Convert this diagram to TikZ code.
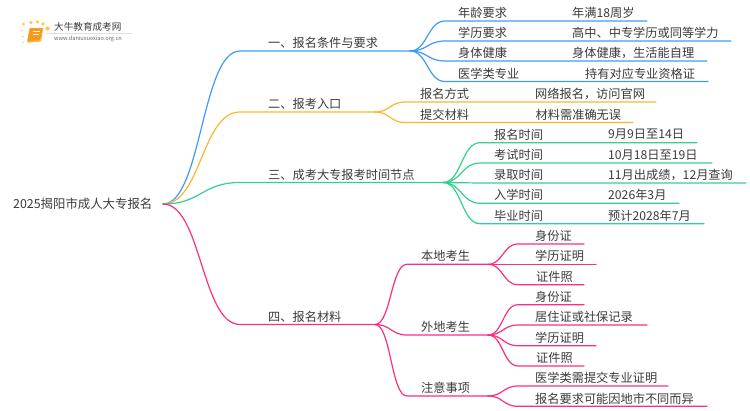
\documentclass[tikz,border=0pt]{standalone}
\usepackage{fontspec}
\usepackage{xcolor}
\usetikzlibrary{calc}
\setmainfont{Noto Sans CJK SC}
\definecolor{linkblue}{HTML}{3D9BFB}
\definecolor{linkorange}{HTML}{FDB52F}
\definecolor{linkgreen}{HTML}{35D08F}
\definecolor{linkpink}{HTML}{FB2E84}
\definecolor{textgray}{HTML}{3A3A3A}
\definecolor{bookorange}{HTML}{F59A1B}
\definecolor{dotyellow}{HTML}{FBC95A}
\tikzset{
  label/.style={anchor=west,inner sep=0pt,text=textgray,font=\fontsize{12.2}{12.2}\selectfont},
  link/.style={line width=1.2pt,line cap=round},
  curve/.style={to path={let \p1=(\tikztostart),\p2=(\tikztotarget) in
    .. controls ({.5*\x1+.5*\x2},\y1) and ({.5*\x1+.5*\x2},\y2) .. (\tikztotarget)}},
  dot/.style={fill=dotyellow,draw=none}
}

\begin{document}
\begin{tikzpicture}[x=1pt,y=-1pt]
\useasboundingbox (0,0) rectangle (750,410);

% logo
\filldraw[dot] (23.5,24) circle(1.6) (31,22.5) circle(1.9) (37.5,22) circle(1.9) (43,24) circle(1.9) (47.5,28.5) circle(2.2);
\filldraw[dot,opacity=.7] (22,30.5) circle(1.2) (22.7,36.5) circle(1.1) (23.3,42.5) circle(.9);
\fill[bookorange!75!white,rounded corners=1pt] (29.5,28) -- (43.5,28) -- (41,41.5) -- (27,42.8) -- cycle;
\fill[bookorange,rounded corners=1pt] (30,28) -- (42.5,28) -- (40,40) -- (27.5,41) -- cycle;
\draw[white,line width=.5pt] (33,31.5) -- (39.5,31.5) (32.5,34) -- (39,34);
\draw[black!12,line width=.6pt] (46,33) -- (132,33);
\node[label,font=\fontsize{9.6}{9.6}\selectfont] (logoname) at (54,26.5) {大牛教育成考网};
\node[label,font=\fontsize{5.6}{5.6}\selectfont,text=black!60] (logourl) at (54,38.5) {www.daniuxuexiao.org.cn};

% root
\node[label,font=\fontsize{12.4}{12.4}\selectfont] (root) at (13,204) {2025揭阳市成人大专报名};
\coordinate (hub) at (163,204);

% branch one
\coordinate (one) at (240,51);
\coordinate (oneEnd) at (410,51);
\node[label] (oneText) at (268,43) {一、报名条件与要求};
\draw[link,linkblue] (hub) to[curve] (one) -- (oneEnd);
\coordinate (oneA) at (445,21);
\coordinate (oneAEnd) at (647,21);
\coordinate (oneB) at (445,41);
\coordinate (oneBEnd) at (731,41);
\coordinate (oneC) at (445,61);
\coordinate (oneCEnd) at (707,61);
\coordinate (oneD) at (445,81.5);
\coordinate (oneDEnd) at (708,81.5);
\draw[link,linkblue] (oneEnd) to[curve] (oneA) -- (oneAEnd);
\draw[link,linkblue] (oneEnd) to[curve] (oneB) -- (oneBEnd);
\draw[link,linkblue] (oneEnd) to[curve] (oneC) -- (oneCEnd);
\draw[link,linkblue] (oneEnd) to[curve] (oneD) -- (oneDEnd);
\node[label] (ageKey) at (458,12.5) {年龄要求};
\node[label] (ageVal) at (572,12.5) {年满18周岁};
\node[label] (eduKey) at (458,33) {学历要求};
\node[label] (eduVal) at (572,33) {高中、中专学历或同等学力};
\node[label] (bodyKey) at (458,53) {身体健康};
\node[label] (bodyVal) at (572,53) {身体健康，生活能自理};
\node[label] (medKey) at (458,73.5) {医学类专业};
\node[label] (medVal) at (585,73.5) {持有对应专业资格证};

% branch two
\coordinate (two) at (240,112);
\coordinate (twoEnd) at (375,112);
\node[label] (twoText) at (268,104) {二、报考入口};
\draw[link,linkorange] (hub) to[curve] (two) -- (twoEnd);
\coordinate (twoA) at (405,102);
\coordinate (twoAEnd) at (656,102);
\coordinate (twoB) at (405,122.5);
\coordinate (twoBEnd) at (633,122.5);
\draw[link,linkorange] (twoEnd) to[curve] (twoA) -- (twoAEnd);
\draw[link,linkorange] (twoEnd) to[curve] (twoB) -- (twoBEnd);
\node[label] (wayKey) at (420,94) {报名方式};
\node[label] (wayVal) at (535,94) {网络报名，访问官网};
\node[label] (subKey) at (420,114.5) {提交材料};
\node[label] (subVal) at (535.5,114.5) {材料需准确无误};

% branch three
\coordinate (three) at (240,182.5);
\coordinate (threeEnd) at (443,182.5);
\node[label] (threeText) at (268,174.5) {三、成考大专报考时间节点};
\draw[link,linkgreen] (hub) to[curve] (three) -- (threeEnd);
\coordinate (threeA) at (480,142.7);
\coordinate (threeAEnd) at (697,142.7);
\coordinate (threeB) at (480,163);
\coordinate (threeBEnd) at (712,163);
\coordinate (threeC) at (480,183);
\coordinate (threeCEnd) at (746,183);
\coordinate (threeD) at (480,203.3);
\coordinate (threeDEnd) at (679,203.3);
\coordinate (threeE) at (480,223.7);
\coordinate (threeEEnd) at (704,223.7);
\draw[link,linkgreen] (threeEnd) to[curve] (threeA) -- (threeAEnd);
\draw[link,linkgreen] (threeEnd) to[curve] (threeB) -- (threeBEnd);
\draw[link,linkgreen] (threeEnd) to[curve] (threeC) -- (threeCEnd);
\draw[link,linkgreen] (threeEnd) to[curve] (threeD) -- (threeDEnd);
\draw[link,linkgreen] (threeEnd) to[curve] (threeE) -- (threeEEnd);
\node[label] (signKey) at (494,134.5) {报名时间};
\node[label] (signVal) at (608,134.5) {9月9日至14日};
\node[label] (examKey) at (494,155) {考试时间};
\node[label] (examVal) at (608,155) {10月18日至19日};
\node[label] (passKey) at (494,175) {录取时间};
\node[label] (passVal) at (608,175) {11月出成绩，12月查询};
\node[label] (joinKey) at (494,195) {入学时间};
\node[label] (joinVal) at (608,195) {2026年3月};
\node[label] (gradKey) at (494,215.5) {毕业时间};
\node[label] (gradVal) at (608,215.5) {预计2028年7月};

% branch four
\coordinate (four) at (240,324.5);
\coordinate (fourEnd) at (375,324.5);
\node[label] (fourText) at (268,316.5) {四、报名材料};
\draw[link,linkpink] (hub) to[curve] (four) -- (fourEnd);
\coordinate (local) at (407,264.3);
\coordinate (localEnd) at (488,264.3);
\coordinate (other) at (407,335);
\coordinate (otherEnd) at (488,335);
\coordinate (note) at (407,396);
\coordinate (noteEnd) at (488,396);
\draw[link,linkpink] (fourEnd) to[curve] (local) -- (localEnd);
\draw[link,linkpink] (fourEnd) to[curve] (other) -- (otherEnd);
\draw[link,linkpink] (fourEnd) to[curve] (note) -- (noteEnd);
\node[label] (localText) at (421,256) {本地考生};
\node[label] (otherText) at (421,327) {外地考生};
\node[label] (noteText) at (421,388) {注意事项};

\coordinate (localA) at (518,244);
\coordinate (localAEnd) at (584,244);
\coordinate (localB) at (518,264.3);
\coordinate (localBEnd) at (596,264.3);
\coordinate (localC) at (518,284.7);
\coordinate (localCEnd) at (584,284.7);
\draw[link,linkpink] (localEnd) to[curve] (localA) -- (localAEnd);
\draw[link,linkpink] (localEnd) to[curve] (localB) -- (localBEnd);
\draw[link,linkpink] (localEnd) to[curve] (localC) -- (localCEnd);
\node[label] (localId) at (535,236) {身份证};
\node[label] (localEdu) at (535,256) {学历证明};
\node[label] (localPhoto) at (536,276.5) {证件照};

\coordinate (otherA) at (518,304.7);
\coordinate (otherAEnd) at (584,304.7);
\coordinate (otherB) at (518,325);
\coordinate (otherBEnd) at (647,325);
\coordinate (otherC) at (518,345.7);
\coordinate (otherCEnd) at (596,345.7);
\coordinate (otherD) at (518,366);
\coordinate (otherDEnd) at (584,366);
\draw[link,linkpink] (otherEnd) to[curve] (otherA) -- (otherAEnd);
\draw[link,linkpink] (otherEnd) to[curve] (otherB) -- (otherBEnd);
\draw[link,linkpink] (otherEnd) to[curve] (otherC) -- (otherCEnd);
\draw[link,linkpink] (otherEnd) to[curve] (otherD) -- (otherDEnd);
\node[label] (otherId) at (535,296.5) {身份证};
\node[label] (otherLive) at (535,317) {居住证或社保记录};
\node[label] (otherEdu) at (535,337.5) {学历证明};
\node[label] (otherPhoto) at (536,358) {证件照};

\coordinate (noteA) at (518,386);
\coordinate (noteAEnd) at (668,386);
\coordinate (noteB) at (518,406.3);
\coordinate (noteBEnd) at (707,406.3);
\draw[link,linkpink] (noteEnd) to[curve] (noteA) -- (noteAEnd);
\draw[link,linkpink] (noteEnd) to[curve] (noteB) -- (noteBEnd);
\node[label] (noteMed) at (535,378) {医学类需提交专业证明};
\node[label] (noteCity) at (535,398.5) {报名要求可能因地市不同而异};
\end{tikzpicture}
\end{document}
